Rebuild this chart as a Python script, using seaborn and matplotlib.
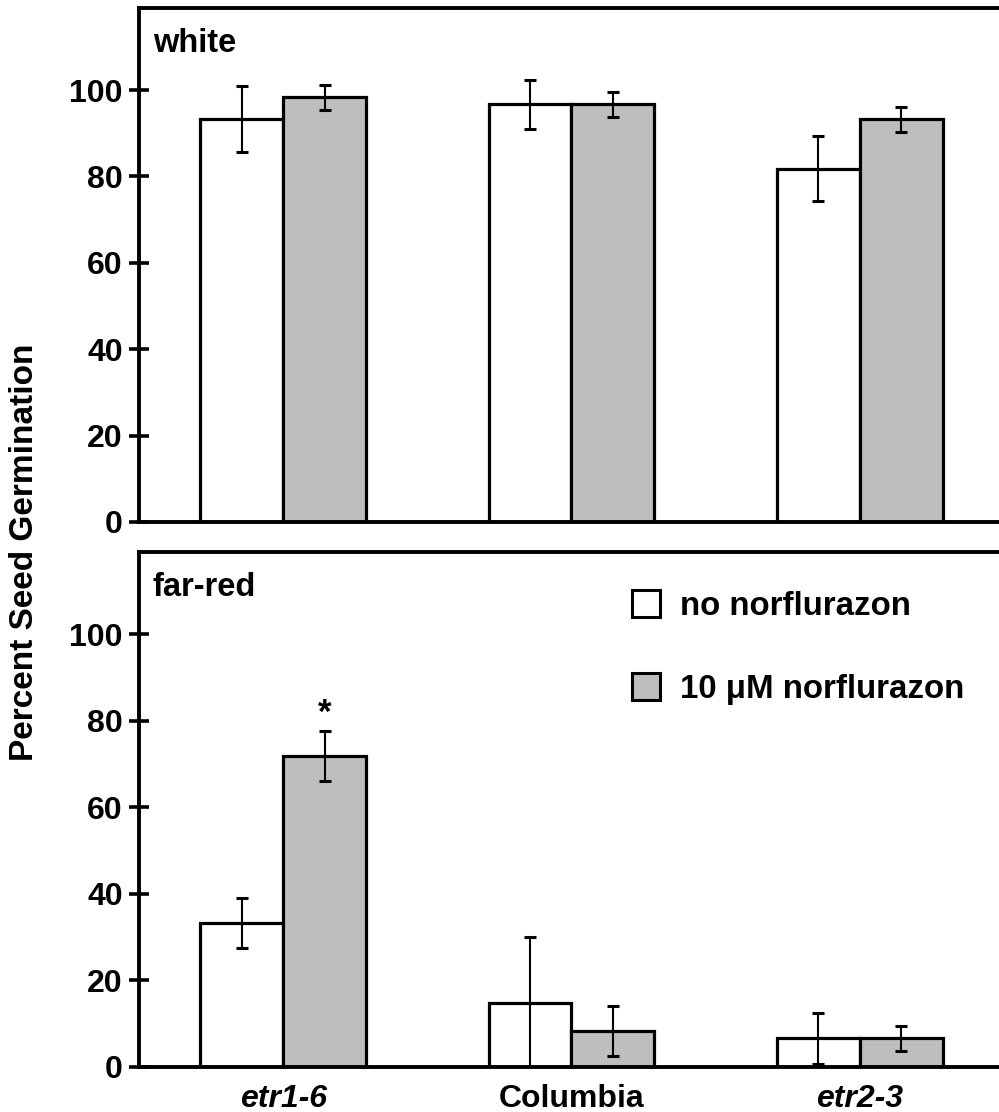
import matplotlib
matplotlib.use('Agg')
import matplotlib.pyplot as plt
from matplotlib.patches import Patch
import seaborn as sns
import pandas as pd

# ---- data ----
genotypes = ['etr1-6', 'Columbia', 'etr2-3']
italic_flags = [True, False, True]
treatments = ['no norflurazon', '10 μM norflurazon']
colors = ['white', '#bebebe']

white_no = [93.3, 96.7, 81.8]
white_no_err = [7.7, 5.7, 7.6]
white_nf = [98.3, 96.7, 93.2]
white_nf_err = [2.9, 2.9, 2.9]

fr_no = [33.3, 14.8, 6.6]
fr_no_err = [5.8, 15.2, 5.8]
fr_nf = [71.8, 8.4, 6.6]
fr_nf_err = [5.8, 5.8, 2.8]

yticks = [0, 20, 40, 60, 80, 100]
panel_labels = ['white', 'far-red']
ylabel = 'Percent Seed Germination'

sns.set_theme(style='white')
plt.rcParams['font.family'] = ['Liberation Sans', 'DejaVu Sans']
plt.rcParams['font.weight'] = 'bold'
for k in ['text.color', 'axes.labelcolor', 'xtick.color', 'ytick.color', 'axes.edgecolor']:
    plt.rcParams[k] = 'black'

fig = plt.figure(figsize=(9.99, 11.12), dpi=100)
ax_top = fig.add_axes([0.139, 0.5306, 0.866, 0.4622])
ax_bot = fig.add_axes([0.139, 0.0405, 0.866, 0.4631])

panels = [
    (ax_top, white_no, white_no_err, white_nf, white_nf_err, panel_labels[0]),
    (ax_bot, fr_no, fr_no_err, fr_nf, fr_nf_err, panel_labels[1]),
]

for ax, no, no_e, nf, nf_e, lab in panels:
    df = pd.DataFrame({
        'genotype': genotypes * 2,
        'value': no + nf,
        'treatment': [treatments[0]] * 3 + [treatments[1]] * 3,
    })
    sns.barplot(data=df, x='genotype', y='value', hue='treatment',
                hue_order=treatments, order=genotypes, palette=colors,
                width=0.575, edgecolor='black', linewidth=2.3,
                errorbar=None, saturation=1, legend=False, ax=ax, zorder=2)
    for cont, vals, errs in zip(ax.containers, [no, nf], [no_e, nf_e]):
        xs = [p.get_x() + p.get_width() / 2 for p in cont.patches]
        ax.errorbar(xs, vals, yerr=errs, fmt='none', ecolor='black',
                    elinewidth=1.5, capsize=4.5, capthick=2.2, zorder=3)
    ax.set_xlim(-0.5, 2.5)
    ax.set_ylim(0, 119)
    ax.set_yticks(yticks)
    ax.set_yticklabels([str(t) for t in yticks], fontsize=23, fontweight='bold')
    ax.tick_params(axis='y', left=True, direction='inout', length=15, width=2.6,
                   pad=4, colors='black')
    ax.tick_params(axis='x', length=0)
    ax.set_xlabel('')
    ax.set_ylabel('')
    for s in ['left', 'top', 'bottom']:
        ax.spines[s].set_visible(True)
        ax.spines[s].set_color('black')
        ax.spines[s].set_linewidth(2.8)
    ax.spines['right'].set_visible(False)
    ax.text(0.016, 0.962, lab, transform=ax.transAxes, fontsize=23.5,
            fontweight='bold', va='top', ha='left')

ax_top.set_xticklabels([])
ax_bot.set_xticks(range(len(genotypes)))
ax_bot.set_xticklabels(genotypes, fontsize=23, fontweight='bold')
for t, it in zip(ax_bot.get_xticklabels(), italic_flags):
    if it:
        t.set_style('italic')
ax_bot.tick_params(axis='x', pad=12)

# significance star above etr1-6 norflurazon bar (far-red)
star_patch = ax_bot.containers[1].patches[0]
ax_bot.text(star_patch.get_x() + star_patch.get_width() / 2, 78, '*',
            fontsize=25, fontweight='bold', ha='center', va='bottom')

handles = [Patch(facecolor=c, edgecolor='black', linewidth=2.2) for c in colors]
ax_bot.legend(handles, treatments, loc='upper left',
              bbox_to_anchor=(632 / 999, 1 - 590 / 1112),
              bbox_transform=fig.transFigure, frameon=False,
              handlelength=0.86, handleheight=0.86,
              handletextpad=0.6, labelspacing=1.55, borderpad=0,
              borderaxespad=0, prop={'weight': 'bold', 'size': 23.8})

fig.text(25 / 999, 1 - 552 / 1112, ylabel, rotation=90, fontsize=24,
         fontweight='bold', ha='center', va='center')

fig.savefig('out.png', dpi=100)
